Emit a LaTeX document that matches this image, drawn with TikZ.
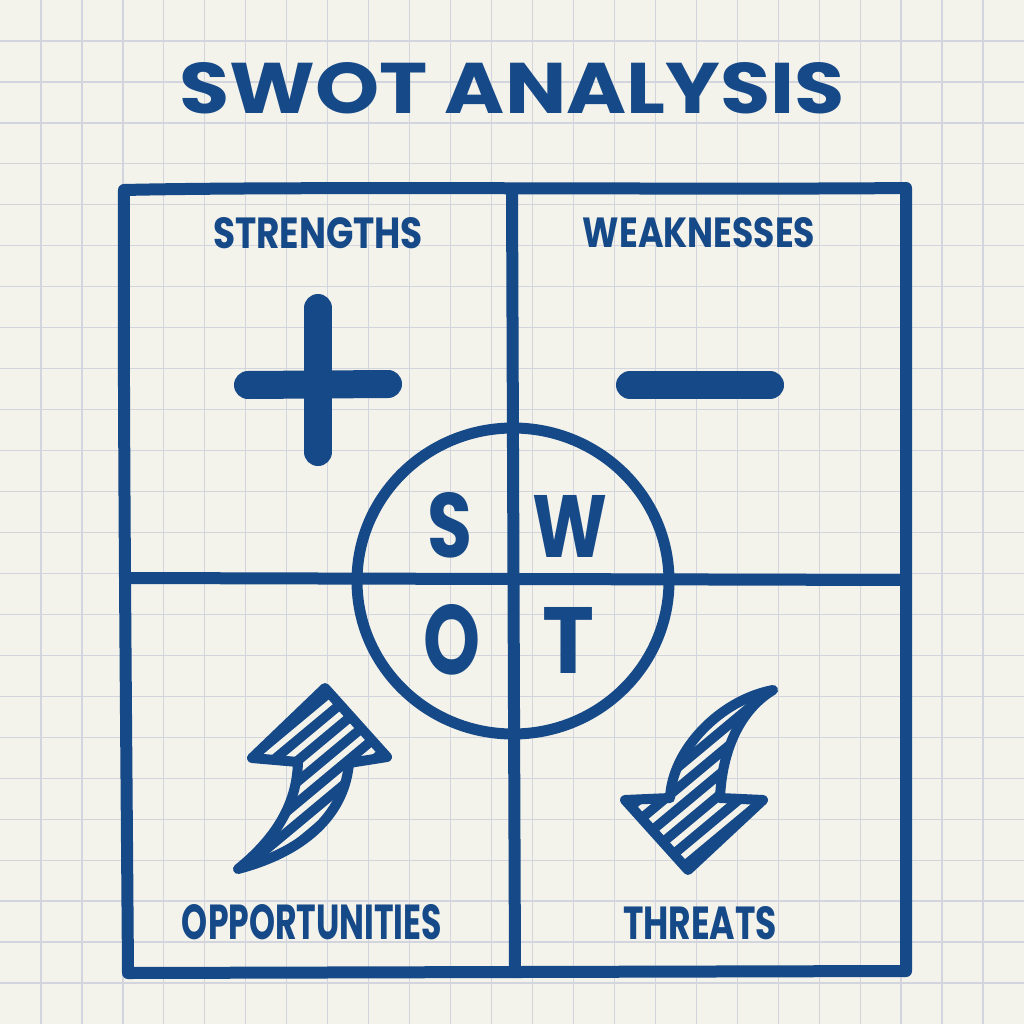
\documentclass[tikz,border=0pt]{standalone}
\usepackage{fontspec}
\setmainfont{Poppins}
\usepackage{graphicx}
\definecolor{inkc}{RGB}{22,73,135}
\definecolor{bgc}{RGB}{243,242,235}
\definecolor{gridc}{RGB}{210,213,222}
\def\uparrowpath{(238,869) .. controls (280,835) and (297,800) .. (298,762) -- (252,758) -- (325,688) -- (387,757) -- (349,763) .. controls (345,810) and (310,850) .. (238,869) -- cycle}
\def\downarrowpath{(773,690) .. controls (720,700) and (672,750) .. (670,798) -- (625,800) -- (688,870) -- (763,800) -- (720,798) .. controls (722,750) and (740,710) .. (773,690) -- cycle}
\begin{document}
\begin{tikzpicture}[x=1pt,y=-1pt,
  inkline/.style={draw=inkc, line width=12pt, line cap=round, line join=round},
  arrowline/.style={draw=inkc, line width=10pt, line cap=round, line join=round},
  hatchline/.style={draw=bgc, line width=6pt, line cap=round},
  gridline/.style={draw=gridc, line width=1.3pt},
  lbl/.style={inner sep=0pt, outer sep=0pt, text=inkc, font=\bfseries},
  letter/.style={inner sep=0pt, outer sep=0pt, text=inkc, font=\bfseries}]
\useasboundingbox (0,0) rectangle (1024,1024);
\fill[bgc] (0,0) rectangle (1024,1024);
% grid paper
\foreach \i in {1,...,24} {
  \draw[gridline] ({\i*40.96},0) -- ({\i*40.96},1024);
  \draw[gridline] (0,{\i*40.96}) -- (1024,{\i*40.96});
}
% title
\node[lbl] (title) at (512,88) {\resizebox{665pt}{51pt}{SWOT ANALYSIS}};
% outer box
\coordinate (tl) at (124,190);
\coordinate (tr) at (906,188);
\coordinate (br) at (906,971);
\coordinate (bl) at (128,973);
\draw[inkline] (tl) .. controls (300,186) and (700,190) .. (tr) -- (br) -- (bl) .. controls (126,700) and (123,400) .. cycle;
% dividers
\coordinate (vt) at (512,189);
\coordinate (vb) at (515,972);
\coordinate (hl) at (125,578);
\coordinate (hr) at (906,580);
\draw[inkline] (vt) -- (vb);
\draw[inkline] (hl) -- (hr);
% circle
\draw[draw=inkc, line width=11pt] (513,581) ellipse [x radius=156, y radius=153];
\node[letter] (s) at (450,525) {\resizebox{45pt}{65pt}{S}};
\node[letter] (w) at (570,526) {\resizebox{75pt}{62pt}{W}};
\node[letter] (o) at (452,640) {\resizebox{57pt}{70pt}{O}};
\node[letter] (t) at (569,640) {\resizebox{52pt}{66pt}{T}};
% labels
\node[lbl] (str) at (318,233) {\resizebox{210pt}{31pt}{STRENGTHS}};
\node[lbl] (weak) at (699,233) {\resizebox{232pt}{30pt}{WEAKNESSES}};
\node[lbl] (opp) at (312,922) {\resizebox{260pt}{35pt}{OPPORTUNITIES}};
\node[lbl] (thr) at (700,923) {\resizebox{154pt}{33pt}{THREATS}};
% plus and minus
\draw[draw=inkc, line width=28pt, line cap=round] (318,308) -- (318,452);
\draw[draw=inkc, line width=28pt, line cap=round] (248,385) -- (388,384);
\draw[draw=inkc, line width=28pt, line cap=round] (630,385) -- (770,385);
% opportunities arrow
\begin{scope}
  \clip \uparrowpath;
  \fill[inkc] \uparrowpath;
  \foreach \k in {-7,...,7} {
    \draw[hatchline] ({312+\k*25-120},880) -- ({312+\k*25+120},680);
  }
\end{scope}
\draw[arrowline] \uparrowpath;
% threats arrow
\begin{scope}
  \clip \downarrowpath;
  \fill[inkc] \downarrowpath;
  \foreach \k in {-7,...,7} {
    \draw[hatchline] ({700+\k*25-120},880) -- ({700+\k*25+120},680);
  }
\end{scope}
\draw[arrowline] \downarrowpath;
\end{tikzpicture}
\end{document}
